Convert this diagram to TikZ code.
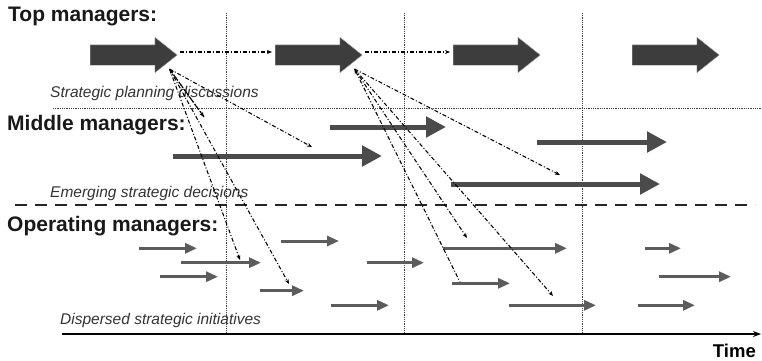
\documentclass[tikz,border=0pt]{standalone}
\usepackage{fontspec}
\setmainfont{Liberation Sans}
\usetikzlibrary{arrows.meta,shapes.arrows}

\definecolor{topfill}{HTML}{3D3D3D}
\definecolor{midgray}{HTML}{4B4B4B}
\definecolor{opgray}{HTML}{5C5C5C}

\begin{document}
\begin{tikzpicture}[x=1pt, y=-1pt,
          bigarrow/.style ={single arrow, fill=topfill, draw=gray!70, line width=0.4,
                            minimum height=87, inner xsep=0, inner ysep=10,
                            single arrow head extend=7.5, single arrow tip angle=77,
                            anchor=tail},
          midarrow/.style ={line width=5, midgray, -{Triangle[length=20pt, width=20pt]}},
          oparrow/.style  ={line width=3, opgray, -{Triangle[length=12pt, width=10pt]}},
          link/.style     ={line width=1.05, dash pattern=on 4pt off 2pt on 1pt off 2pt,
                            -{Stealth[length=5pt, width=4pt]}},
          grid/.style     ={line width=0.8, black!75, densely dotted},
          heading/.style  ={font=\bfseries\fontsize{21}{21}\selectfont, text=black!90,
                            anchor=base west, inner sep=0},
          note/.style     ={font=\itshape\fontsize{15.5}{15.5}\selectfont, text=black!80,
                            anchor=base west, inner sep=0}
          ]
\useasboundingbox (0,0) rectangle (762,360);

% time grid and axis
\foreach \x in {226, 404, 582}{
\draw[grid] (\x,13) -- (\x,334);
}
\draw[grid] (53,108) -- (762,108);
\draw[line width=2.6, black!85, dash pattern=on 12pt off 8pt] (15,205) -- (755,205);
\draw[line width=1.2, -{Stealth[length=8pt, width=6pt]}] (62,334) -- (761,334);

% level titles
\node[heading] (top) at (8,21.7) {Top managers:};
\node[heading] (mid) at (7,130) {Middle managers:};
\node[heading] (op) at (7,231.5) {Operating managers:};
\node[font=\bfseries\fontsize{18.5}{18.5}\selectfont, anchor=base east, inner sep=0] (time) at (756,357) {Time};

\node[note] (plan) at (50,97.7) {Strategic planning discussions};
\node[note] (emerge) at (50,197.5) {Emerging strategic decisions};
\node[note] (disp) at (60,324) {Dispersed strategic initiatives};

% top level: planning rounds
\node[bigarrow] (t1) at (90,55) {};
\node[bigarrow] (t2) at (275,55) {};
\node[bigarrow] (t3) at (453,55) {};
\node[bigarrow] (t4) at (632,55) {};

\draw[link] ([xshift=2pt, yshift=3pt]t1.tip) -- ([xshift=-3pt, yshift=3pt]t2.tail);
\draw[link] ([xshift=2pt, yshift=3pt]t2.tip) -- ([xshift=-3pt, yshift=3pt]t3.tail);

% middle level
\foreach \xa/\xb/\y in {173/382/156, 330/446/127, 537/667/142, 451/660/184}{
\draw[midarrow] (\xa,\y) -- (\xb,\y);
}

% operating level
\foreach \xa/\xb/\y in {139/197/248.3, 181/261/262.7, 160/218/276.7, 260/304/290.7,
                        331/389/305.3, 281/339/241, 367/424/262.7, 443/567/248.3,
                        452/510/283.3, 509/596/305.3, 645/681/248.3, 659/731/276.7,
                        638/695/305.3}{
\draw[oparrow] (\xa,\y) -- (\xb,\y);
}

% decisions passed down from each planning round
\coordinate (s1) at ([xshift=-8pt, yshift=-14pt]t1.tip);
\coordinate (s2) at ([xshift=-8pt, yshift=-14pt]t2.tip);

\draw[link, {Stealth[length=5pt, width=4pt]}-] (204,117) -- (s1);
\draw[link] (204,117) -- (s1);
\foreach \x/\y in {312/147, 240/260, 289/284}{
\draw[link] (s1) -- (\x,\y);
}
\draw[link, {Stealth[length=5pt, width=4pt]}-] (s2) -- (460,282);
\foreach \x/\y in {560/175, 467/238, 553/296}{
\draw[link] (s2) -- (\x,\y);
}
\end{tikzpicture}
\end{document}
